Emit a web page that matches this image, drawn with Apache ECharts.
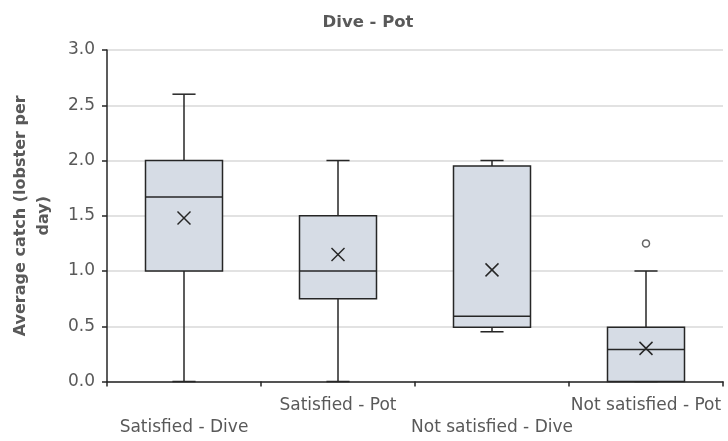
<!DOCTYPE html>
<html>
<head>
<meta charset="utf-8">
<script src="https://cdn.jsdelivr.net/npm/echarts@6/dist/echarts.min.js"></script>
<style>
  html, body { margin: 0; padding: 0; background: #ffffff; }
  #chart { width: 728px; height: 441px; }
</style>
</head>
<body>
<div id="chart"></div>
<script>
// Average catch per group: five-number summary, mean and outliers
const categories = ['Satisfied - Dive', 'Satisfied - Pot', 'Not satisfied - Dive', 'Not satisfied - Pot'];
const whiskerLow  = [0.00, 0.00, 0.45, 0.00];
const quartile1   = [1.00, 0.75, 0.49, 0.00];
const medians     = [1.67, 1.00, 0.59, 0.29];
const quartile3   = [2.00, 1.50, 1.95, 0.49];
const whiskerHigh = [2.60, 2.00, 2.00, 1.00];
const means       = [1.48, 1.15, 1.01, 0.30];
const outliers    = [[3, 1.25]];
const yTicks      = [0, 0.5, 1.0, 1.5, 2.0, 2.5, 3.0];

const FONT = 'DejaVu Sans';
const TEXT = '#595959';
const LINE = '#262626';

const boxData = categories.map((c, i) => [i, whiskerLow[i], quartile1[i], medians[i], quartile3[i], whiskerHigh[i], means[i]]);

function renderBox(params, api) {
  const i = api.value(0);
  const cx = api.coord([i, 0])[0];
  const band = api.size([1, 0])[0];
  const half = band * 0.25;
  const cap = band * 0.075;
  const y = k => api.coord([i, api.value(k)])[1];
  const yLo = y(1), yQ1 = y(2), yMed = y(3), yQ3 = y(4), yHi = y(5), yMean = y(6);
  const ls = { stroke: LINE, lineWidth: 1.5, fill: null };
  const m = 6.5;
  return {
    type: 'group',
    children: [
      { type: 'line', shape: { x1: cx, y1: yHi, x2: cx, y2: yQ3 }, style: ls },
      { type: 'line', shape: { x1: cx, y1: yQ1, x2: cx, y2: yLo }, style: ls },
      { type: 'line', shape: { x1: cx - cap, y1: yHi, x2: cx + cap, y2: yHi }, style: ls },
      { type: 'line', shape: { x1: cx - cap, y1: yLo, x2: cx + cap, y2: yLo }, style: ls },
      { type: 'rect', shape: { x: cx - half, y: yQ3, width: half * 2, height: yQ1 - yQ3 },
        style: { fill: '#d6dce5', stroke: LINE, lineWidth: 1.5 } },
      { type: 'line', shape: { x1: cx - half, y1: yMed, x2: cx + half, y2: yMed }, style: ls },
      { type: 'line', shape: { x1: cx - m, y1: yMean - m, x2: cx + m, y2: yMean + m }, style: ls },
      { type: 'line', shape: { x1: cx - m, y1: yMean + m, x2: cx + m, y2: yMean - m }, style: ls }
    ]
  };
}

const chart = echarts.init(document.getElementById('chart'), null, { renderer: 'canvas' });
chart.setOption({
  animation: false,
  title: {
    text: 'Dive - Pot',
    left: 363, top: 9, textAlign: 'center',
    textStyle: { fontFamily: FONT, fontSize: 16.5, fontWeight: 'bold', color: TEXT }
  },
  grid: { left: 107, right: 5, top: 50, bottom: 59.5, containLabel: false },
  xAxis: {
    type: 'category',
    data: categories,
    boundaryGap: true,
    axisLine: { lineStyle: { color: LINE, width: 1.5 } },
    axisTick: { show: true, length: 5, lineStyle: { color: LINE, width: 1.5 } },
    axisLabel: {
      interval: 0, hideOverlap: false, margin: 13,
      fontFamily: FONT, fontSize: 17, color: TEXT, lineHeight: 22,
      formatter: (v, idx) => (idx % 2 === 0 ? '\n' : '') + v
    },
    splitLine: { show: false }
  },
  yAxis: {
    type: 'value',
    min: 0, max: 3, interval: 0.5,
    name: 'Average catch (lobster per\nday)',
    nameLocation: 'middle', nameRotate: 90, nameGap: 52,
    nameTextStyle: { fontFamily: FONT, fontSize: 16, fontWeight: 'bold', color: TEXT, lineHeight: 23, align: 'center' },
    axisLine: { show: true, lineStyle: { color: LINE, width: 1.5 } },
    axisTick: { show: true, length: 5, lineStyle: { color: LINE, width: 1.5 } },
    axisLabel: {
      margin: 12, fontFamily: FONT, fontSize: 17, color: TEXT,
      customValues: yTicks,
      formatter: v => v.toFixed(1)
    },
    splitLine: { lineStyle: { color: '#d9d9d9', width: 1.5 } }
  },
  series: [
    {
      type: 'custom',
      renderItem: renderBox,
      encode: { x: 0, y: [1, 2, 3, 4, 5, 6] },
      data: boxData,
      z: 3
    },
    {
      type: 'scatter',
      data: outliers,
      symbol: 'circle',
      symbolSize: 7,
      itemStyle: { color: '#ffffff', borderColor: '#404040', borderWidth: 1.5 },
      z: 4
    }
  ]
});
</script>
</body>
</html>
